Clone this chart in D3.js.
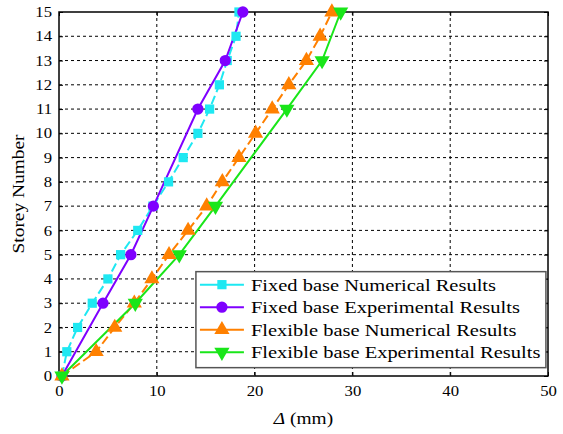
<!DOCTYPE html>
<html>
<head>
<meta charset="utf-8">
<script src="https://cdn.jsdelivr.net/npm/d3@7"></script>
<style>
  body { margin: 0; background: #fff; }
</style>
</head>
<body>
<div id="chart"></div>
<script>
// Storey numbers and drift values (mm)
const storeys = d3.range(0, 16);
const fixedNum = [0.3, 0.8, 1.9, 3.4, 5.0, 6.3, 8.05, 9.6, 11.2, 12.7, 14.2, 15.4, 16.4, 17.2, 18.1, 18.4];
const fixedExpStoreys = [0, 3, 5, 7, 11, 13, 15];
const fixedExp = [0.3, 4.5, 7.35, 9.65, 14.2, 17.0, 18.8];
const flexNum = [0.3, 3.8, 5.7, 7.7, 9.5, 11.25, 13.2, 15.1, 16.7, 18.4, 20.1, 21.8, 23.5, 25.3, 26.7, 27.9];
const flexExpStoreys = [0, 3, 5, 7, 11, 13, 15];
const flexExp = [0.3, 7.8, 12.3, 16.0, 23.3, 26.9, 28.8];
const xTicks = [0, 10, 20, 30, 40, 50];
const yTicks = d3.range(0, 16);

const series = [
  { name: "Fixed base Numerical Results", ys: storeys, xs: fixedNum, color: "#1ee8f2", dash: "9,4", symbol: d3.symbolSquare, size: 85 },
  { name: "Fixed base Experimental Results", ys: fixedExpStoreys, xs: fixedExp, color: "#7f00ff", dash: null, symbol: d3.symbolCircle, size: 100 },
  { name: "Flexible base Numerical Results", ys: storeys, xs: flexNum, color: "#ff8000", dash: "9,4", symbol: d3.symbolTriangle, size: 100 },
  { name: "Flexible base Experimental Results", ys: flexExpStoreys, xs: flexExp, color: "#19e619", dash: null, symbol: d3.symbolTriangle, size: 100, down: true }
];

const FONT = "'Liberation Serif', 'Times New Roman', serif";
const width = 563, height = 434;
const margin = { top: 12, right: 15, bottom: 58, left: 59 };
const plotW = width - margin.left - margin.right;
const plotH = height - margin.top - margin.bottom;

// the figure's text is a bit wider than plain Times, stretch it horizontally
function stretch(sel, factor) {
  sel.each(function() {
    const len = this.getComputedTextLength();
    d3.select(this)
      .attr("textLength", len * factor)
      .attr("lengthAdjust", "spacingAndGlyphs");
  });
}

const svg = d3.select("#chart").append("svg")
  .attr("width", width)
  .attr("height", height);

const g = svg.append("g")
  .attr("transform", `translate(${margin.left},${margin.top})`);

const x = d3.scaleLinear().domain([0, 50]).range([0, plotW]);
const y = d3.scaleLinear().domain([0, 15]).range([plotH, 0]);

// dashed grid
g.append("g")
  .selectAll("line")
  .data(yTicks.filter(d => d > 0 && d < 15))
  .join("line")
  .attr("x1", 0).attr("x2", plotW)
  .attr("y1", d => y(d)).attr("y2", d => y(d))
  .attr("stroke", "#000").attr("stroke-width", 1).attr("stroke-dasharray", "3,3");

g.append("g")
  .selectAll("line")
  .data(xTicks.filter(d => d > 0 && d < 50))
  .join("line")
  .attr("x1", d => x(d)).attr("x2", d => x(d))
  .attr("y1", 0).attr("y2", plotH)
  .attr("stroke", "#000").attr("stroke-width", 1).attr("stroke-dasharray", "3,3");

// axes, ticks pointing inward on all four sides
g.append("g")
  .attr("transform", `translate(0,${plotH})`)
  .call(d3.axisBottom(x).tickValues(xTicks).tickSizeInner(-4).tickSizeOuter(0).tickPadding(10));
g.append("g")
  .call(d3.axisLeft(y).tickValues(yTicks).tickSizeInner(-4).tickSizeOuter(0).tickPadding(7));
g.append("g")
  .call(d3.axisTop(x).tickValues(xTicks).tickSizeInner(-4).tickSizeOuter(0).tickFormat(""));
g.append("g")
  .attr("transform", `translate(${plotW},0)`)
  .call(d3.axisRight(y).tickValues(yTicks).tickSizeInner(-4).tickSizeOuter(0).tickFormat(""));

g.selectAll(".tick text")
  .style("font-family", FONT)
  .style("font-size", "14.5px")
  .call(stretch, 1.15);
g.selectAll(".domain").attr("stroke", "none");
g.selectAll(".tick line").attr("stroke", "#000");

// frame
g.append("rect")
  .attr("width", plotW).attr("height", plotH)
  .attr("fill", "none").attr("stroke", "#000").attr("stroke-width", 1.5);

// lines and markers
const line = d3.line().x(d => x(d[0])).y(d => y(d[1]));

series.forEach(s => {
  const pts = s.xs.map((v, i) => [v, s.ys[i]]);
  g.append("path")
    .datum(pts)
    .attr("d", line)
    .attr("fill", "none")
    .attr("stroke", s.color)
    .attr("stroke-width", 2)
    .attr("stroke-dasharray", s.dash);
});

series.forEach(s => {
  const pts = s.xs.map((v, i) => [v, s.ys[i]]);
  g.append("g")
    .selectAll("path")
    .data(pts)
    .join("path")
    .attr("d", d3.symbol().type(s.symbol).size(s.size))
    .attr("transform", d => `translate(${x(d[0])},${y(d[1])})${s.down ? " rotate(180)" : ""}`)
    .attr("fill", s.color);
});

// legend
const legend = g.append("g")
  .attr("transform", `translate(${x(14)},${y(4.3)})`);
legend.append("rect")
  .attr("width", 350).attr("height", 96)
  .attr("fill", "#fff").attr("stroke", "#555").attr("stroke-width", 1.5);

series.forEach((s, i) => {
  const row = legend.append("g").attr("transform", `translate(0,${13 + i * 22.5})`);
  row.append("line")
    .attr("x1", 4).attr("x2", 48)
    .attr("stroke", s.color).attr("stroke-width", 2);
  row.append("path")
    .attr("d", d3.symbol().type(s.symbol).size(s.size))
    .attr("transform", `translate(26,0)${s.down ? " rotate(180)" : ""}`)
    .attr("fill", s.color);
  row.append("text")
    .attr("x", 55).attr("y", 6)
    .style("font-family", FONT)
    .style("font-size", "17.5px")
    .text(s.name)
    .call(stretch, 1.17);
});

// axis titles
const xTitle = svg.append("text")
  .attr("x", margin.left + plotW / 2)
  .attr("y", 424)
  .attr("text-anchor", "middle")
  .style("font-family", FONT)
  .style("font-size", "17px");
xTitle.append("tspan").attr("font-style", "italic").text("Δ");
xTitle.append("tspan").text(" (mm)");
xTitle.call(stretch, 1.14);

svg.append("text")
  .attr("transform", `translate(24,${margin.top + plotH / 2}) rotate(-90)`)
  .attr("text-anchor", "middle")
  .style("font-family", FONT)
  .style("font-size", "17px")
  .text("Storey Number")
  .call(stretch, 1.14);
</script>
</body>
</html>
